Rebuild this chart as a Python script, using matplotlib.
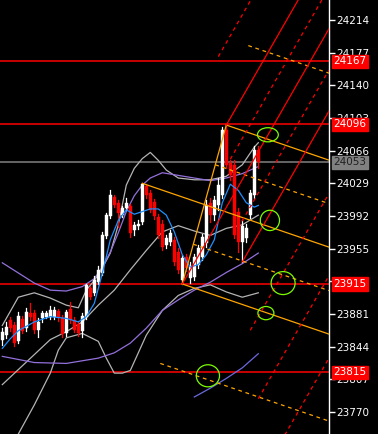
import matplotlib
matplotlib.use("Agg")
import matplotlib.pyplot as plt
from matplotlib.patches import Rectangle, Ellipse

# ---------------- data ----------------
opens = [23852,23857,23874,23869,23850,23875,23865,23882,23882,23863,23876,23878,23878,23878,23884,23876,
         23859,23887,23874,23870,23862,23878,23910,23905,23917,23927,23969,23992,24014,24007,23993,24001,
         24003,23976,23981,23985,24026,24018,24008,23991,23983,23959,23963,23965,23951,23919,23946,23922,
         23923,23936,23946,23961,24007,23993,24004,24016,24089,24052,24050,23997,23963,23967,23993,24016,24067]
highs = [23865,23872,23878,23872,23883,23879,23888,23893,23886,23876,23884,23884,23890,23889,23887,23880,
         23886,23895,23878,23873,23882,23915,23913,23924,23935,23974,23995,24021,24016,24010,24003,24012,
         24006,23985,23987,24029,24028,24021,24011,23994,23987,23970,23976,23968,23956,23948,23949,23940,
         23949,23959,23972,24010,24012,24015,24035,24093,24095,24055,24055,24001,23987,23983,24021,24071,24071]
lows = [23846,23854,23862,23845,23848,23859,23862,23874,23859,23855,23872,23876,23875,23875,23873,23855,
        23856,23871,23861,23856,23855,23875,23898,23903,23915,23925,23967,23990,24002,23980,23991,23999,
        23968,23970,23977,23983,24012,23997,23989,23967,23953,23956,23959,23936,23927,23915,23930,23916,
        23919,23933,23942,23957,23985,23987,23999,24012,24046,24033,23967,23951,23940,23963,23990,24012,24046]
closes = [23861,23866,23865,23848,23879,23862,23883,23878,23863,23872,23882,23882,23886,23886,23876,23858,
          23883,23874,23863,23859,23879,23914,23900,23919,23931,23970,23993,24016,24004,23995,24001,24007,
          23973,23982,23983,24028,24016,23999,23992,23970,23957,23967,23973,23940,23931,23944,23933,23935,
          23946,23956,23968,24004,23993,24010,24027,24089,24050,24038,23970,23963,23981,23978,24018,24067,24053]

# indicator lines (bar index, price)
fast_ma_x = [0,2,4,8,12,16,19,21,23,25,27,29,31,33,35,37,39,41,43,45,47,49,51,53,55,57,59,61,63,64]
fast_ma_y = [23842,23853,23862,23872,23878,23876,23872,23878,23893,23927,23965,23987,23999,23994,23997,24000,
             24000,23993,23974,23948,23934,23937,23948,23965,24007,24028,24021,24007,24002,24004]
mid_ma_x = [0,8,12,16,20,23,25,27,29,31,33,35,37,40,44,48,52,56,60,64]
mid_ma_y = [23939,23916,23908,23907,23912,23921,23934,23951,23973,23997,24015,24027,24035,24041,24038,24035,
            24032,24035,24040,24048]
slow_ma_x = [0,8,16,24,28,32,36,40,44,48,52,56,60,64]
slow_ma_y = [23833,23826,23825,23831,23837,23848,23865,23885,23897,23908,23917,23928,23938,23950]
long_ma_x = [48,52,56,60,64]
long_ma_y = [23787,23797,23808,23820,23836]
bb_up_x = [0,4,8,12,16,19,21,23,25,27,29,31,33,35,37,39,41,44,48,52,56,60,63,64]
bb_up_y = [23868,23900,23905,23899,23891,23888,23908,23919,23933,23950,23982,24027,24046,24057,24064,24055,
           24044,24035,24033,24033,24037,24050,24070,24075]
bb_mid_x = [0,4,8,12,16,20,24,28,32,36,40,44,48,52,56,60,64]
bb_mid_y = [23801,23818,23835,23852,23861,23872,23891,23908,23931,23953,23974,23981,23975,23970,23978,23982,23993]
bb_low_x = [4,8,12,14,16,20,24,26,28,30,32,36,40,44,48,52,56,60,64]
bb_low_y = [23745,23778,23814,23840,23854,23859,23850,23831,23814,23814,23817,23857,23885,23902,23910,23914,
            23906,23900,23905]

h_red_levels = [24167, 24096, 23915, 23815]
h_gray_levels = [24053]
tick_values = [24214,24177,24140,24103,24066,24029,23992,23955,23918,23881,23844,23807,23770]

# pitchfork pivots (bar index, price)
orange_pivots = [(35, 24029), (45, 23915), (56, 24095)]   # P, A, B
orange_dashed_levels = [-0.5, 0.25, 0.75, 1.5]
red_pivots = [(45, 23915), (56, 24095), (60, 23940)]      # P, B, C
red_dashed_levels = [-0.5, 0.25, 0.75, 1.5, 2.0, 2.5]

# marked circles (bar index, price, width in bars, height in price)
circles = [(66.4, 24084, 5.2, 16), (66.9, 23987, 4.8, 23), (70.2, 23916, 6.0, 26),
           (65.9, 23882, 4.0, 15), (51.4, 23811, 5.8, 25)]

# ---------------- figure ----------------
W, H = 378, 434
fig = plt.figure(figsize=(W/100, H/100), dpi=100)
fig.patch.set_facecolor('black')
ax = fig.add_axes([0, 0, 329/W, 1])
ax.set_facecolor('black')
XMIN, XMAX = -0.575, 81.675
ax.set_xlim(XMIN, XMAX)
ax.set_ylim(23745.06, 24236.65)

for lv in h_red_levels:
    ax.axhline(lv, color='#ff0000', lw=1.1, zorder=1)
for lv in h_gray_levels:
    ax.axhline(lv, color='#808080', lw=1.1, zorder=1)

lw = 0.9
ax.plot(bb_up_x, bb_up_y, color='#b4b4b4', lw=lw, zorder=2)
ax.plot(bb_mid_x, bb_mid_y, color='#b4b4b4', lw=lw, zorder=2)
ax.plot(bb_low_x, bb_low_y, color='#b4b4b4', lw=lw, zorder=2)
ax.plot(slow_ma_x, slow_ma_y, color='#9370db', lw=lw, zorder=2)
ax.plot(long_ma_x, long_ma_y, color='#6a6ae0', lw=lw, zorder=2)
ax.plot(mid_ma_x, mid_ma_y, color='#9370db', lw=lw, zorder=2)
ax.plot(fast_ma_x, fast_ma_y, color='#1e90ff', lw=lw, zorder=4)

for i, (o, h, l, c) in enumerate(zip(opens, highs, lows, closes)):
    col = 'white' if c >= o else '#ff0000'
    ax.plot([i, i], [l, h], color=col, lw=0.9, zorder=3)
    ax.add_patch(Rectangle((i - 0.36, min(o, c)), 0.72, max(abs(c - o), 0.8),
                           facecolor=col, edgecolor=col, lw=0.3, zorder=3))


def ray(x0, y0, slope, color, dashed):
    xs = [x0, XMAX]
    ys = [y0, y0 + slope * (XMAX - x0)]
    if dashed:
        ax.plot(xs, ys, color=color, lw=0.9, dashes=(3, 3), zorder=5)
    else:
        ax.plot(xs, ys, color=color, lw=0.9, zorder=5)


def pitchfork(pivots, dashed_levels, color, handle=False):
    (px, py), (ax_, ay), (bx, by) = pivots
    mx, my = (ax_ + bx) / 2, (ay + by) / 2
    slope = (my - py) / (mx - px)
    ray(px, py, slope, color, False)
    ray(ax_, ay, slope, color, False)
    ray(bx, by, slope, color, False)
    for t in dashed_levels:
        sx = ax_ + t * (bx - ax_)
        sy = ay + t * (by - ay)
        ray(sx, sy, slope, color, True)
    if handle:
        ax.plot([ax_, bx], [ay, by], color=color, lw=0.9, zorder=5)


pitchfork(orange_pivots, orange_dashed_levels, '#ffa500', handle=True)
pitchfork(red_pivots, red_dashed_levels, '#ff0000')

for cx, cy, cw, chh in circles:
    ax.add_patch(Ellipse((cx, cy), cw, chh, fill=False, edgecolor='#7cfc00', lw=0.9, zorder=6))

# axis
for s in ['left', 'top', 'bottom']:
    ax.spines[s].set_visible(False)
ax.spines['right'].set_color('white')
ax.spines['right'].set_linewidth(1)
ax.set_xticks([])
ax.yaxis.tick_right()
ax.set_yticks(tick_values)
ax.set_yticklabels([str(v) for v in tick_values])
ax.tick_params(axis='y', colors='white', labelcolor='white', length=4, width=1, pad=1, labelsize=7.5)

for lv in h_red_levels:
    ax.annotate(str(lv), xy=(1.0, lv), xycoords=('axes fraction', 'data'), xytext=(3, 0),
                textcoords='offset points', ha='left', va='center', color='white', fontsize=7.5,
                bbox=dict(boxstyle='square,pad=0.15', fc='#ff0000', ec='#ff0000'), zorder=10, annotation_clip=False)
for lv in h_gray_levels:
    ax.annotate(str(lv), xy=(1.0, lv), xycoords=('axes fraction', 'data'), xytext=(3, 0),
                textcoords='offset points', ha='left', va='center', color='#202020', fontsize=7.5,
                bbox=dict(boxstyle='square,pad=0.15', fc='#808080', ec='#808080'), zorder=10, annotation_clip=False)

fig.savefig('out.png', dpi=100, facecolor='black')
